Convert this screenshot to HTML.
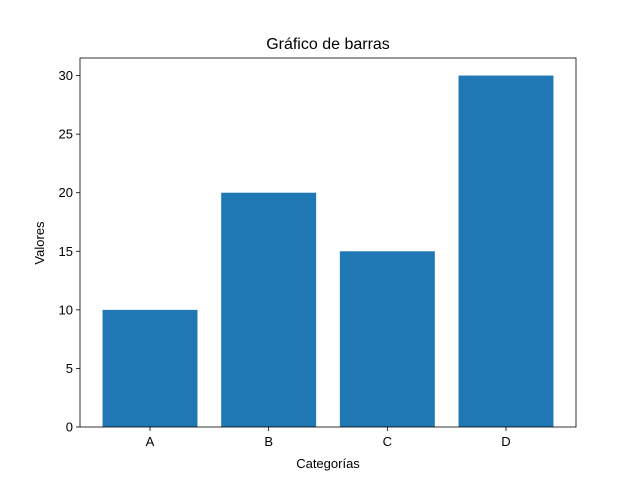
<!DOCTYPE html>
<html><head><meta charset="utf-8"><style>
body{margin:0;background:#fff;}
svg text{font-family:"Liberation Sans","DejaVu Sans",sans-serif;fill:#000;}
</style></head><body>
<svg id="chart" width="640" height="480" xmlns="http://www.w3.org/2000/svg">
<rect width="640" height="480" fill="#fff"/>
<text x="328" y="49" font-size="16" text-anchor="middle">Gráfico de barras</text>
<g id="bars"></g>
<g id="axes"></g>
<text x="328" y="468" font-size="13" text-anchor="middle">Categorías</text>
<text transform="translate(44,243) rotate(-90)" font-size="13" text-anchor="middle">Valores</text>
</svg>
<script>
const categories = ["A","B","C","D"];
const values = [10,20,15,30];
const yTicks = [0,5,10,15,20,25,30];

const L=80,R=576,T=58,B=427;
const ymax=Math.max(...values)*1.05;
const xmin=-0.59,xmax=categories.length-1+0.59;
const xs=v=>L+(v-xmin)/(xmax-xmin)*(R-L);
const ys=v=>B-v/ymax*(B-T);
const NS="http://www.w3.org/2000/svg";
const bars=document.getElementById('bars'),axes=document.getElementById('axes');
function mk(tag,attrs,parent){const e=document.createElementNS(NS,tag);for(const k in attrs)e.setAttribute(k,attrs[k]);parent.appendChild(e);return e;}
categories.forEach((c,i)=>{
  const x0=xs(i-0.4),x1=xs(i+0.4);
  const r=mk('rect',{x:x0,y:ys(values[i]),width:x1-x0,height:B-ys(values[i]),fill:'#1f77b4'},bars);
  
  
  const t=mk('line',{x1:xs(i),x2:xs(i),y1:B,y2:B+4,stroke:'#000','stroke-width':0.8},axes);
  
  
  const lb=mk('text',{x:xs(i),y:B+19,'font-size':13,'text-anchor':'middle'},axes);
  lb.textContent=c;
  
  
});
yTicks.forEach(v=>{
  const t=mk('line',{x1:L-4,x2:L,y1:ys(v),y2:ys(v),stroke:'#000','stroke-width':0.8},axes);
  
  
  const lb=mk('text',{x:L-7,y:ys(v)+4.5,'font-size':13,'text-anchor':'end'},axes);
  lb.textContent=v;
  
  
});
const fr=mk('rect',{x:L,y:T,width:R-L,height:B-T,fill:'none',stroke:'#000','stroke-width':0.8},axes);


</script>
</body></html>
